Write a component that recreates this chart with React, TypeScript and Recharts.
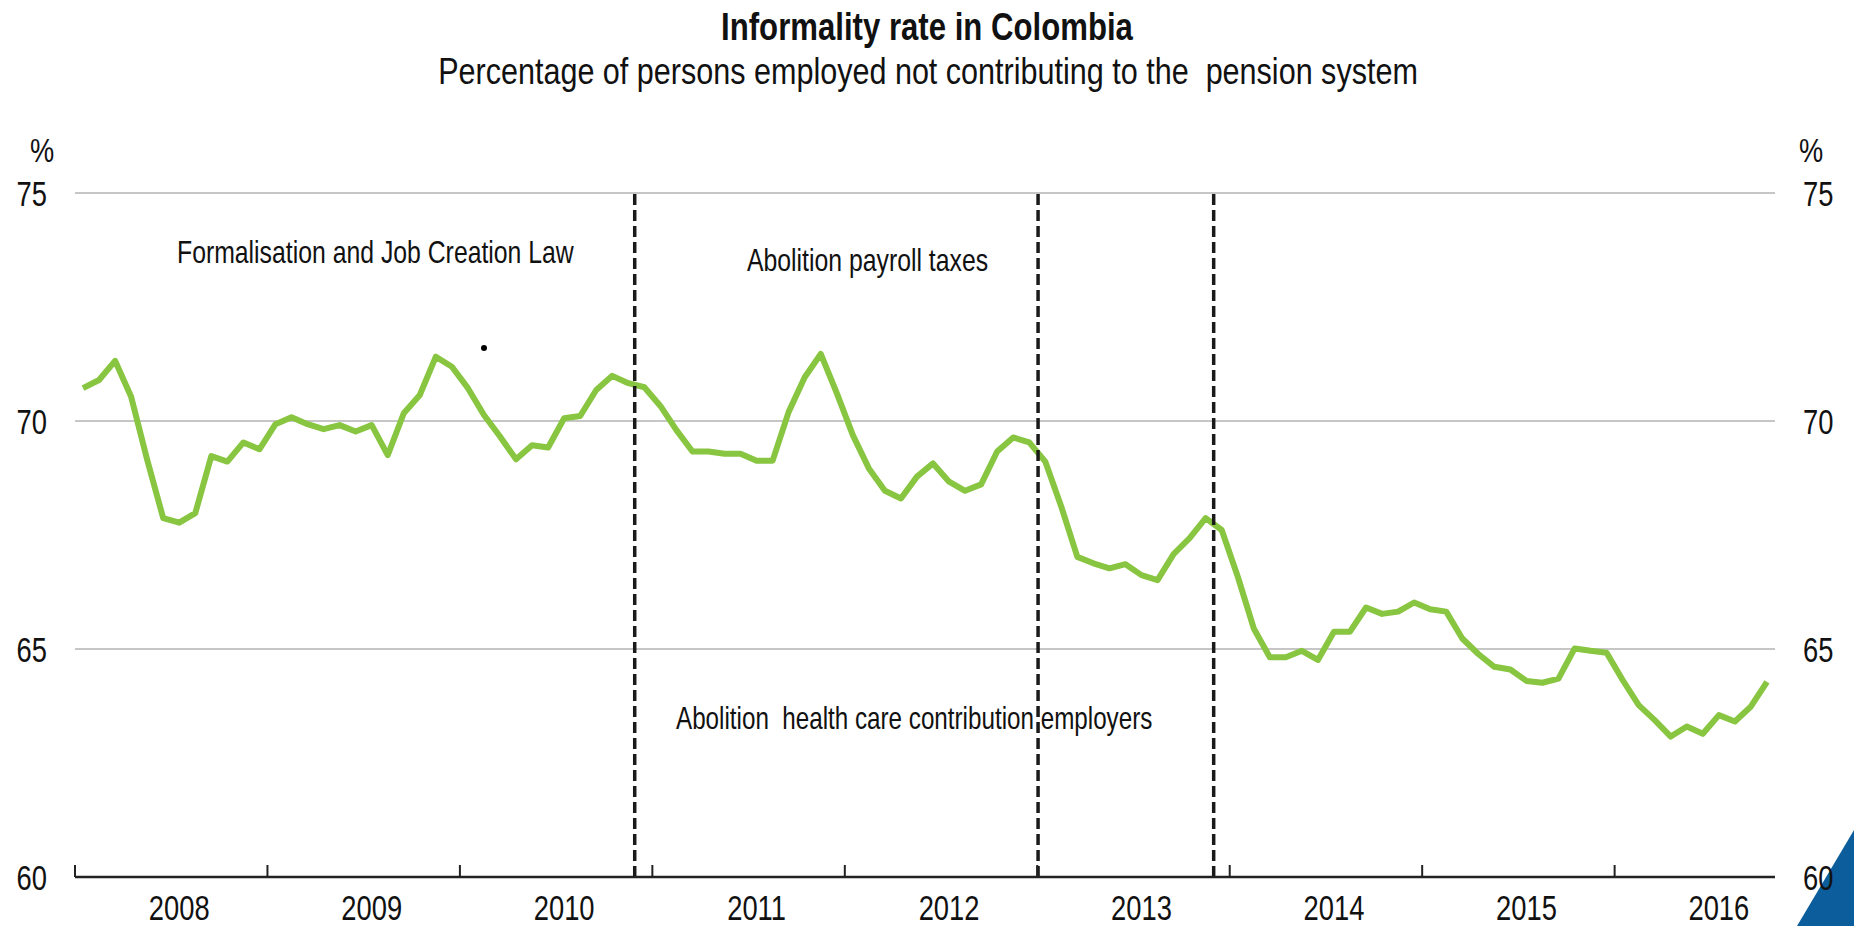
import React from 'react';
import { LineChart, Line, XAxis, YAxis, CartesianGrid, ReferenceLine } from 'recharts';

const FONT = "'Liberation Sans', Arial, sans-serif";

// Monthly informality rate (%), one array per year
const rate2008 = [70.72, 70.9, 71.32, 70.53, 69.15, 67.87, 67.77, 67.98, 69.23, 69.11, 69.53, 69.38];
const rate2009 = [69.93, 70.08, 69.93, 69.82, 69.91, 69.77, 69.91, 69.25, 70.17, 70.57, 71.41, 71.19];
const rate2010 = [70.72, 70.13, 69.66, 69.16, 69.47, 69.42, 70.06, 70.11, 70.68, 70.99, 70.83, 70.74];
const rate2011 = [70.33, 69.8, 69.33, 69.33, 69.28, 69.28, 69.13, 69.13, 70.2, 70.96, 71.47, 70.61];
const rate2012 = [69.69, 68.96, 68.47, 68.3, 68.78, 69.07, 68.67, 68.47, 68.61, 69.33, 69.64, 69.53];
const rate2013 = [69.11, 68.12, 67.02, 66.88, 66.77, 66.86, 66.62, 66.51, 67.08, 67.43, 67.87, 67.61];
const rate2014 = [66.59, 65.45, 64.82, 64.82, 64.96, 64.76, 65.38, 65.38, 65.91, 65.77, 65.82, 66.02];
const rate2015 = [65.87, 65.82, 65.23, 64.89, 64.61, 64.55, 64.3, 64.26, 64.35, 65.01, 64.96, 64.92];
const rate2016 = [64.32, 63.77, 63.44, 63.08, 63.3, 63.14, 63.55, 63.41, 63.74, 64.28];

const yearLabels = ['2008', '2009', '2010', '2011', '2012', '2013', '2014', '2015', '2016'];
const yTicks = [60, 65, 70, 75];
// reform dates, in months since January 2008
const reformMonths = [34.9, 60.05, 71.0];

const titleText = 'Informality rate in Colombia';
const subtitleText = 'Percentage of persons employed not contributing to the  pension system';
const notes = ['Formalisation and Job Creation Law', 'Abolition payroll taxes', 'Abolition  health care contribution employers'];

const rates = [
  ...rate2008, ...rate2009, ...rate2010, ...rate2011, ...rate2012,
  ...rate2013, ...rate2014, ...rate2015, ...rate2016,
];
const data = rates.map((v, i) => ({ t: i + 0.5, rate: v }));
const boundaryTicks = yearLabels.map((_, k) => k * 12);
const labelTicks = yearLabels.map((_, k) => k * 12 + 6.5);
const xTicks = [...boundaryTicks, ...labelTicks].sort((a, b) => a - b);

type NTProps = {
  x: number;
  y: number;
  size: number;
  sx?: number;
  anchor?: 'start' | 'middle' | 'end';
  bold?: boolean;
  children: React.ReactNode;
};

const NText = ({ x, y, size, sx = 0.8, anchor = 'start', bold = false, children }: NTProps) => (
  <text
    transform={`translate(${x},${y}) scale(${sx},1)`}
    textAnchor={anchor}
    fontSize={size}
    fontWeight={bold ? 'bold' : 'normal'}
    fontFamily={FONT}
    fill="#111"
    style={{ whiteSpace: 'pre' }}
  >
    {children}
  </text>
);

const YearTick = (props: any) => {
  const { x, y, payload } = props;
  const v = payload.value as number;
  if (v % 12 === 0) {
    return <line x1={x} x2={x} y1={y} y2={y - 12} stroke="#222" strokeWidth={2} />;
  }
  const k = Math.floor(v / 12);
  return (
    <NText x={x} y={y + 43} size={36} sx={0.76} anchor="middle">
      {yearLabels[k]}
    </NText>
  );
};

const ValueTick = (props: any) => {
  const { x, y, payload, textAnchor } = props;
  return (
    <NText x={x} y={y + 13} size={36} sx={0.76} anchor={textAnchor}>
      {String(payload.value)}
    </NText>
  );
};

export default function App() {
  return (
    <div style={{ position: 'absolute', left: 0, top: 0, width: 1854, height: 926, background: '#fff', overflow: 'hidden' }}>
      <svg width={1854} height={926} style={{ position: 'absolute', left: 0, top: 0 }}>
        <polygon points="1797,926 1854,830 1854,926" fill="#0b5e9b" />
      </svg>
      <div style={{ position: 'absolute', left: 0, top: 0 }}>
        <LineChart width={1854} height={926} data={data} margin={{ top: 193, right: 0, bottom: 0, left: 0 }}>
          <CartesianGrid yAxisId="l" xAxisId="x" vertical={false} stroke="#c6c6c6" strokeWidth={2} />
          <XAxis
            xAxisId="x"
            dataKey="t"
            type="number"
            domain={[0, rates.length]}
            ticks={xTicks}
            interval={0}
            tick={<YearTick />}
            tickLine={false}
            tickSize={0}
            tickMargin={0}
            height={49}
            axisLine={{ stroke: '#222', strokeWidth: 2.5 }}
          />
          <YAxis
            yAxisId="l"
            type="number"
            domain={[60, 75]}
            ticks={yTicks}
            interval={0}
            width={75}
            axisLine={false}
            tickLine={false}
            tickSize={0}
            tickMargin={28}
            tick={<ValueTick />}
          />
          <YAxis
            yAxisId="r"
            orientation="right"
            type="number"
            domain={[60, 75]}
            ticks={yTicks}
            interval={0}
            width={79}
            axisLine={false}
            tickLine={false}
            tickSize={0}
            tickMargin={28}
            tick={<ValueTick />}
          />
          <Line
            xAxisId="x"
            yAxisId="r"
            type="linear"
            dataKey="rate"
            stroke="transparent"
            strokeWidth={0}
            dot={false}
            activeDot={false}
            legendType="none"
            isAnimationActive={false}
          />
          <Line
            xAxisId="x"
            yAxisId="l"
            type="linear"
            dataKey="rate"
            stroke="#88c540"
            strokeWidth={6}
            strokeLinejoin="round"
            dot={false}
            activeDot={false}
            isAnimationActive={false}
          />
          {reformMonths.map((m) => (
            <ReferenceLine
              key={m}
              xAxisId="x"
              yAxisId="l"
              x={m}
              stroke="#1a1a1a"
              strokeWidth={3.5}
              strokeDasharray="11 5"
            />
          ))}
        </LineChart>
      </div>
      <svg width={1854} height={926} style={{ position: 'absolute', left: 0, top: 0, pointerEvents: 'none' }}>
        <NText x={927} y={40} size={38} sx={0.82} anchor="middle" bold>{titleText}</NText>
        <NText x={928} y={84} size={37.5} sx={0.815} anchor="middle">{subtitleText}</NText>
        <NText x={42} y={162} size={34} sx={0.8} anchor="middle">%</NText>
        <NText x={1811} y={162} size={34} sx={0.8} anchor="middle">%</NText>
        <NText x={177} y={263} size={32} sx={0.775}>{notes[0]}</NText>
        <NText x={747} y={271} size={32} sx={0.775}>{notes[1]}</NText>
        <NText x={676} y={729} size={32} sx={0.757}>{notes[2]}</NText>
        <circle cx={484} cy={348} r={3} fill="#000" />
      </svg>
    </div>
  );
}
